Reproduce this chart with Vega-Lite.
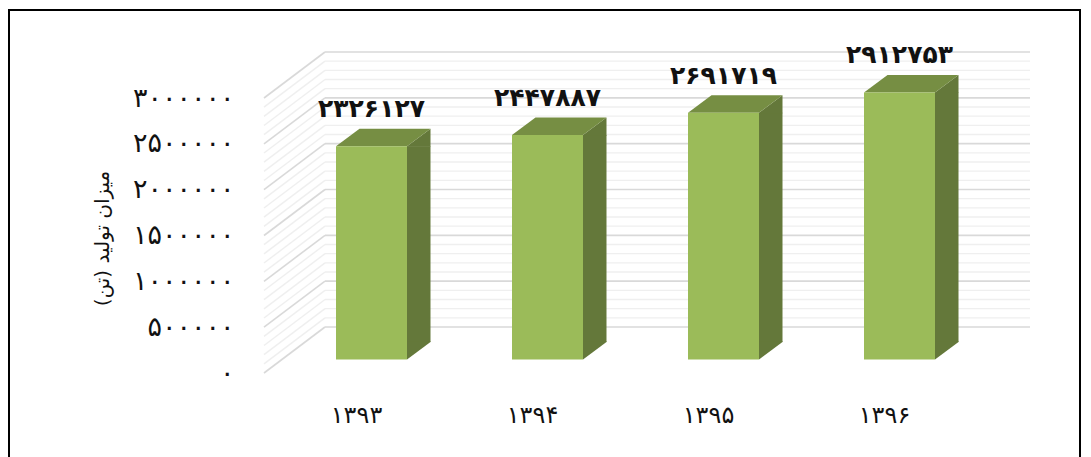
{"$schema":"https://vega.github.io/schema/vega-lite/v6.json","width":1071,"height":447,"autosize":"none","padding":{"left":9,"top":10,"right":11,"bottom":0},"background":"white","config":{"view":{"stroke":null}},"datasets":{"bars":[{"year":"۱۳۹۳","value":2326127,"label":"۲۳۲۶۱۲۷"},{"year":"۱۳۹۴","value":2447887,"label":"۲۴۴۷۸۸۷"},{"year":"۱۳۹۵","value":2691719,"label":"۲۶۹۱۷۱۹"},{"year":"۱۳۹۶","value":2912753,"label":"۲۹۱۲۷۵۳"}],"grid":[{"tick":100000,"kind":"minor"},{"tick":200000,"kind":"minor"},{"tick":300000,"kind":"minor"},{"tick":400000,"kind":"minor"},{"tick":600000,"kind":"minor"},{"tick":700000,"kind":"minor"},{"tick":800000,"kind":"minor"},{"tick":900000,"kind":"minor"},{"tick":1100000,"kind":"minor"},{"tick":1200000,"kind":"minor"},{"tick":1300000,"kind":"minor"},{"tick":1400000,"kind":"minor"},{"tick":1600000,"kind":"minor"},{"tick":1700000,"kind":"minor"},{"tick":1800000,"kind":"minor"},{"tick":1900000,"kind":"minor"},{"tick":2100000,"kind":"minor"},{"tick":2200000,"kind":"minor"},{"tick":2300000,"kind":"minor"},{"tick":2400000,"kind":"minor"},{"tick":2600000,"kind":"minor"},{"tick":2700000,"kind":"minor"},{"tick":2800000,"kind":"minor"},{"tick":2900000,"kind":"minor"},{"tick":0,"kind":"major"},{"tick":500000,"kind":"major"},{"tick":1000000,"kind":"major"},{"tick":1500000,"kind":"major"},{"tick":2000000,"kind":"major"},{"tick":2500000,"kind":"major"},{"tick":3000000,"kind":"major"}],"frame":[{"top":3960000,"bottom":-1200000,"left":0,"right":1071}]},"resolve":{"scale":{"x":"independent","color":"shared"},"axis":{"y":"independent"}},"layer":[{"data":{"name":"frame"},"mark":{"type":"rect","fill":null,"stroke":"#000000","strokeWidth":2,"clip":false},"encoding":{"x":{"field":"left","type":"quantitative","axis":null,"scale":{"domain":[0,1071],"range":[0,1071]}},"x2":{"field":"right"},"y":{"field":"top","type":"quantitative","axis":null,"scale":{"domain":[0,3000000],"range":[363,88],"nice":false}},"y2":{"field":"bottom"}}},{"data":{"name":"grid"},"mark":{"type":"rule","yOffset":-46},"encoding":{"x":{"datum":316,"type":"quantitative","axis":null,"scale":{"domain":[0,1071],"range":[0,1071]}},"x2":{"datum":1021},"y":{"field":"tick","type":"quantitative","axis":{"orient":"left","offset":-225,"labelPadding":0,"domain":false,"ticks":false,"grid":false,"values":[0,500000,1000000,1500000,2000000,2500000,3000000],"labelExpr":"replace(replace(replace(replace(replace(''+datum.value,/0/g,'۰'),/1/g,'۱'),/2/g,'۲'),/3/g,'۳'),/5/g,'۵')","labelFont":"DejaVu Sans","labelFontSize":27,"labelColor":"#111111","title":"میزان تولید (تن)","titleFont":"DejaVu Sans","titleFontSize":20,"titleFontWeight":"normal","titleColor":"#111111","titleX":-132,"titleY":228,"titleAngle":-90,"titleBaseline":"middle"},"scale":{"domain":[0,3000000],"range":[363,88],"nice":false}},"color":{"field":"kind","type":"nominal","legend":null,"scale":{"domain":["major","minor"],"range":["#d9d9d9","#efefef"]}},"size":{"field":"kind","type":"nominal","legend":null,"scale":{"domain":["major","minor"],"range":[1.6,1.4]}}}},{"data":{"name":"grid"},"mark":{"type":"rule","y2Offset":-46},"encoding":{"x":{"datum":255,"type":"quantitative","axis":null,"scale":{"domain":[0,1071],"range":[0,1071]}},"x2":{"datum":316},"y":{"field":"tick","type":"quantitative","axis":null,"scale":{"domain":[0,3000000],"range":[363,88],"nice":false}},"y2":{"field":"tick"},"color":{"field":"kind","type":"nominal","legend":null,"scale":{"domain":["major","minor"],"range":["#d9d9d9","#efefef"]}},"size":{"field":"kind","type":"nominal","legend":null,"scale":{"domain":["major","minor"],"range":[1.6,1.4]}}}},{"data":{"name":"bars"},"layer":[{"mark":{"type":"bar","width":23.5,"xOffset":47.25,"yOffset":-13.5,"y2Offset":-31.1,"fill":"#64783a"},"encoding":{"y":{"field":"value","type":"quantitative","axis":null,"stack":null,"scale":{"domain":[0,3000000],"range":[363,88],"nice":false}},"y2":{"datum":0}}},{"mark":{"type":"point","shape":"M35.5,-18.2L59,-18.2L59,-17.6L35.5,0Z","size":4,"filled":true,"fill":"#64783a","strokeWidth":0,"opacity":1},"encoding":{"y":{"datum":0,"type":"quantitative","axis":null},"yOffset":{"value":-13.5}}},{"mark":{"type":"point","shape":"M35.5,0.6L59,0.6L59,-17.6L35.5,0Z","size":4,"filled":true,"fill":"#64783a","strokeWidth":0,"opacity":1,"yOffset":-13.5},"encoding":{"y":{"field":"value","type":"quantitative","axis":null}}},{"mark":{"type":"point","shape":"M-35.5,0L35.5,0L59,-17.6L-12,-17.6Z","size":4,"filled":true,"fill":"#768e43","strokeWidth":0,"opacity":1,"yOffset":-13.5},"encoding":{"y":{"field":"value","type":"quantitative","axis":null}}},{"mark":{"type":"bar","yOffset":-13.5,"y2Offset":-13.5,"fill":"#9bbb59"},"encoding":{"y":{"field":"value","type":"quantitative","axis":null,"stack":null},"y2":{"datum":0}}},{"mark":{"type":"text","yOffset":-50.5,"font":"DejaVu Sans","fontWeight":"bold","fontSize":25,"fill":"#111111","baseline":"middle"},"encoding":{"y":{"field":"value","type":"quantitative","axis":null},"text":{"field":"label"}}}],"encoding":{"x":{"field":"year","type":"nominal","sort":null,"scale":{"range":[327,926],"paddingInner":0.5966,"paddingOuter":0},"axis":{"orient":"bottom","offset":-42,"title":null,"domain":false,"ticks":false,"labelAngle":0,"labelPadding":0,"labelBaseline":"middle","labelOffset":-15,"labelFont":"DejaVu Sans","labelFontSize":24,"labelColor":"#111111"}}}}]}
